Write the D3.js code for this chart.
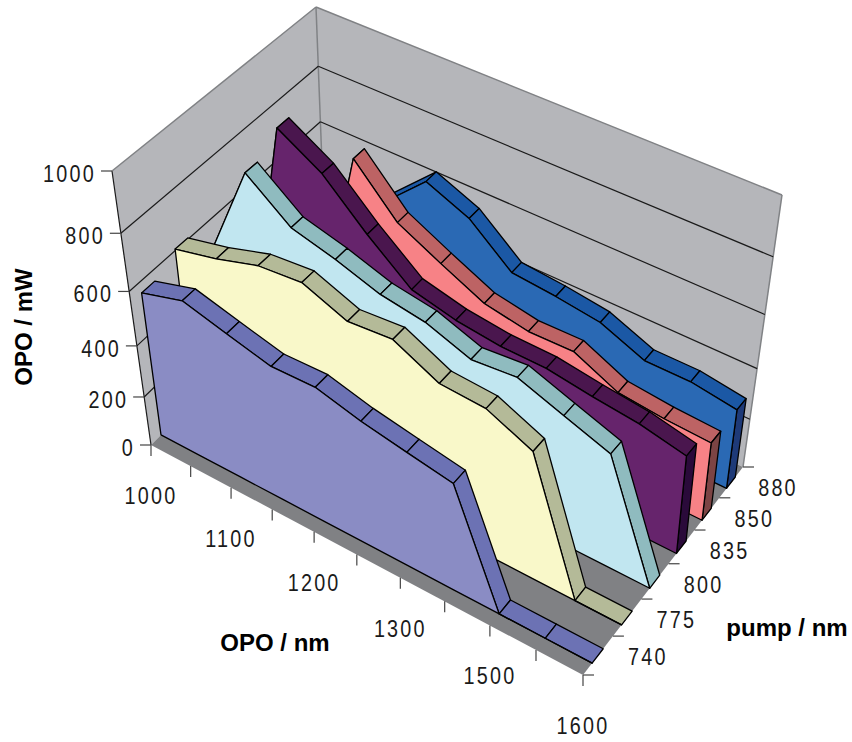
<!DOCTYPE html>
<html>
<head>
<meta charset="utf-8">
<title>OPO power</title>
<script src="https://cdn.jsdelivr.net/npm/d3@7/dist/d3.min.js"></script>
<style>
  html, body { margin: 0; padding: 0; background: #fff; }
  svg { display: block; }
  text { font-family: "Liberation Sans", Arial, sans-serif; fill: #1a1a1a; }
  .tick-label { font-size: 23px; letter-spacing: 2.6px; }
  .axis-title { font-size: 24px; font-weight: bold; fill: #000; }
</style>
</head>
<body>
<svg id="chart" width="852" height="742"></svg>
<script>
// chart data
var opoCategories = [1000, 1050, 1100, 1150, 1200, 1250, 1300, 1400, 1500, 1550, 1600];
var opoLabels = [1000, 1100, 1200, 1300, 1500, 1600];
var pumpCategories = [740, 775, 800, 835, 850, 880];
var powerTicks = [0, 200, 400, 600, 800, 1000];

var pump740 = [560, 605, 562, 521, 524, 481, 450, 420, 0, 0, 0];
var pump775 = [605, 641, 688, 701, 639, 651, 573, 563, 491, 0, 0];
var pump800 = [490, 834, 714, 673, 622, 597, 540, 554, 496, 439, 0];
var pump835 = [30, 889, 800, 656, 529, 491, 472, 469, 445, 426, 390];
var pump850 = [0, 40, 756, 596, 517, 442, 413, 416, 340, 323, 315];
var pump880 = [0, 300, 500, 646, 581, 451, 436, 414, 347, 347, 322];
var seriesValues = [pump740, pump775, pump800, pump835, pump850, pump880];

// face, top strip, end cap
var seriesColors = [
  ["#8a8cc4", "#6c72b4", "#6c72b4"],
  ["#f9f8c9", "#b4ba98", "#b4ba98"],
  ["#c1e6f0", "#8fbbbf", "#8fbbbf"],
  ["#66246c", "#4a164e", "#2a0a3a"],
  ["#f78286", "#bd6364", "#7c4444"],
  ["#2a69b4", "#1b58a5", "#1e3a78"]
];

(function () {
  "use strict";

  var svg = d3.select("#chart");

  // corners of the 3d box on screen: floor and ceiling
  var floorBox = { a: [151, 445], b: [583, 675], c: [743, 467], d: [326, 268] };
  var roofBox = { a: [112, 171], b: [596, 392], c: [782, 195], d: [316, 7] };

  // foreshortening of each axis
  function warp(k) {
    return function (t) { return t * k / (1 + t * (k - 1)); };
  }
  var warpX = warp(0.91), warpY = warp(0.85), warpZ = warp(1.15);

  var x = d3.scalePoint().domain(opoCategories).range([0, 1]);
  var y = d3.scaleLinear().domain([0, 1000]).range([0, 1]);
  var z = d3.scaleBand().domain(pumpCategories).range([0, 1]);

  var slabFront = 0.3, slabBack = 0.67; // part of a band taken by the slab

  function quad(box, u, v) {
    function mix(k) {
      return (1 - u) * (1 - v) * box.a[k] + u * (1 - v) * box.b[k] +
        u * v * box.c[k] + (1 - u) * v * box.d[k];
    }
    return [mix(0), mix(1)];
  }

  // opo position, power, depth all in 0..1
  function project(tx, ty, tz) {
    var u = warpX(tx), v = warpZ(tz), w = warpY(ty);
    var p0 = quad(floorBox, u, v), p1 = quad(roofBox, u, v);
    return [p0[0] + (p1[0] - p0[0]) * w, p0[1] + (p1[1] - p0[1]) * w];
  }

  var line = d3.line();

  function poly(points, fill, stroke, width) {
    svg.append("path")
      .attr("d", line(points) + "Z")
      .attr("fill", fill)
      .attr("stroke", stroke || "none")
      .attr("stroke-width", width || 0)
      .attr("stroke-linejoin", "round");
  }

  function seg(p, q, color, width) {
    svg.append("line")
      .attr("x1", p[0]).attr("y1", p[1])
      .attr("x2", q[0]).attr("y2", q[1])
      .attr("stroke", color)
      .attr("stroke-width", width);
  }

  // digits in the picture are narrow and spaced out
  function tickLabel(px, py, anchor, txt) {
    svg.append("text")
      .attr("class", "tick-label")
      .attr("transform", "translate(" + px + "," + py + ") scale(0.86,1)")
      .attr("text-anchor", anchor)
      .text(txt);
  }

  // walls and floor
  var wallColor = "#b5b6ba", edgeColor = "#808285";
  poly([project(0, 0, 0), project(0, 1, 0), project(0, 1, 1), project(0, 0, 1)], wallColor);
  poly([project(0, 0, 1), project(0, 1, 1), project(1, 1, 1), project(1, 0, 1)], wallColor);
  poly([project(0, 0, 0), project(1, 0, 0), project(1, 0, 1), project(0, 0, 1)], "#808184");

  seg(project(0, 0, 0), project(0, 1, 0), "#1a1a1a", 1.2);
  seg(project(0, 1, 0), project(0, 1, 1), edgeColor, 1.5);
  seg(project(0, 1, 1), project(1, 1, 1), edgeColor, 1.5);
  seg(project(1, 1, 1), project(1, 0, 1), edgeColor, 1.5);
  seg(project(0, 0, 1), project(0, 1, 1), edgeColor, 1.5);

  // gridlines along both walls
  powerTicks.forEach(function (d) {
    if (d === 0 || d === 1000) return;
    seg(project(0, y(d), 0), project(0, y(d), 1), "#1a1a1a", 1.2);
    seg(project(0, y(d), 1), project(1, y(d), 1), "#1a1a1a", 1.2);
  });

  // one slab per pump wavelength, far ones first
  d3.range(seriesValues.length - 1, -1, -1).forEach(function (s) {
    var values = seriesValues[s];
    var colors = seriesColors[s];
    var z0 = z(pumpCategories[s]) + z.bandwidth() * slabFront;
    var z1 = z(pumpCategories[s]) + z.bandwidth() * slabBack;

    var front = opoCategories.map(function (c, i) { return project(x(c), y(values[i]), z0); });
    var back = opoCategories.map(function (c, i) { return project(x(c), y(values[i]), z1); });
    var baseFront = opoCategories.map(function (c) { return project(x(c), 0, z0); });
    var baseBack = opoCategories.map(function (c) { return project(x(c), 0, z1); });

    d3.range(opoCategories.length - 1).forEach(function (i) {
      poly([front[i], front[i + 1], back[i + 1], back[i]], colors[1], "#000", 1.3);
    });

    var n = opoCategories.length - 1;
    if (values[n] > 0) {
      poly([baseFront[n], front[n], back[n], baseBack[n]], colors[2], "#000", 1.3);
    }

    poly(front.concat(baseFront.slice().reverse()), colors[0], "#000", 1.3);
  });

  // power axis
  powerTicks.forEach(function (d) {
    var p = project(0, y(d), 0);
    seg(p, [p[0] - 11, p[1]], "#444", 1.2);
    tickLabel(p[0] - 16, p[1] + 11, "end", d);
  });

  // opo axis
  opoCategories.forEach(function (c) {
    var p = project(x(c), 0, 0);
    seg(p, [p[0], p[1] + 11], "#444", 1.2);
    if (opoLabels.indexOf(c) >= 0) tickLabel(p[0], p[1] + 59, "middle", c);
  });

  // pump axis, ticks sit between the bands
  pumpCategories.forEach(function (c, i) {
    var p0 = project(1, 0, z(c));
    var p1 = project(1, 0, z(c) + z.bandwidth());
    seg(p0, [p0[0] + 11, p0[1]], "#444", 1.2);
    if (i === pumpCategories.length - 1) seg(p1, [p1[0] + 11, p1[1]], "#444", 1.2);
    tickLabel(p1[0] + 35, p1[1] + 29, "middle", c);
  });

  // axis titles
  svg.append("text").attr("class", "axis-title")
    .attr("x", 275).attr("y", 651).attr("text-anchor", "middle").text("OPO / nm");
  svg.append("text").attr("class", "axis-title")
    .attr("x", 787).attr("y", 636).attr("text-anchor", "middle").text("pump / nm");
  svg.append("text").attr("class", "axis-title")
    .attr("transform", "translate(32,327) rotate(-90)")
    .attr("text-anchor", "middle").text("OPO / mW");
})();
</script>
</body>
</html>
